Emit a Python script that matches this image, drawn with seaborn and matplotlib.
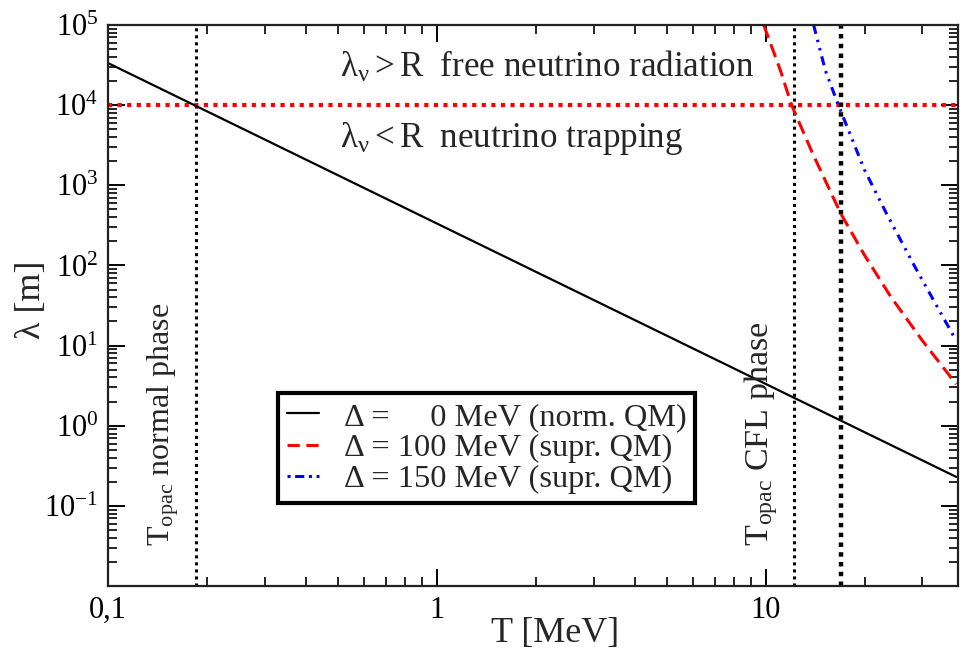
import matplotlib
matplotlib.use("Agg")
import matplotlib.pyplot as plt
from matplotlib.ticker import LogLocator, NullFormatter
from matplotlib.lines import Line2D
import seaborn as sns
import pandas as pd

# ---- data ----
T_norm = [0.1, 38.0]
lam_norm = [3.35e4, 0.23]

T_d100 = [9.87, 11.1, 12.0, 13.9, 16.9, 20.0, 24.0, 30.0, 38.0]
lam_d100 = [1.0e5, 2.7e4, 1.0e4, 2.5e3, 450.0, 134.0, 41.0, 11.5, 3.3]

T_d150 = [14.0, 15.2, 16.65, 20.0, 23.3, 28.5, 38.0]
lam_d150 = [1.0e5, 2.7e4, 1.0e4, 1.55e3, 447.0, 95.0, 11.5]

T_opac = [0.185, 12.2, 17.0]
R_lambda = 1.0e4

legend_labels = ["\u0394 =     0 MeV (norm. QM)",
                 "\u0394 = 100 MeV (supr. QM)",
                 "\u0394 = 150 MeV (supr. QM)"]
x_ticks = [0.1, 1, 10]
x_ticklabels = ["0,1", "1", "10"]
y_ticks = [1e-1, 1e0, 1e1, 1e2, 1e3, 1e4, 1e5]
y_ticklabels = [r"$10^{-1}$", r"$10^{0}$", r"$10^{1}$", r"$10^{2}$",
                r"$10^{3}$", r"$10^{4}$", r"$10^{5}$"]

sns.set_theme(style="ticks")
plt.rcParams["font.family"] = ["Liberation Serif", "DejaVu Serif"]
plt.rcParams["mathtext.fontset"] = "custom"
plt.rcParams["mathtext.rm"] = "Liberation Serif"
plt.rcParams["mathtext.it"] = "Liberation Serif:italic"
plt.rcParams["mathtext.bf"] = "Liberation Serif:bold"

fig = plt.figure(figsize=(9.6, 6.57), dpi=100)
ax = fig.add_axes([0.1125, 0.108, 0.998 - 0.1125, 0.962 - 0.108])

df0 = pd.DataFrame({"T": T_norm, "lam": lam_norm})
df1 = pd.DataFrame({"T": T_d100, "lam": lam_d100})
df2 = pd.DataFrame({"T": T_d150, "lam": lam_d150})

sns.lineplot(data=df0, x="T", y="lam", ax=ax, color="black", lw=1.6,
             sort=False, estimator=None)
l0 = ax.lines[-1]
sns.lineplot(data=df1, x="T", y="lam", ax=ax, color="#ff0000", lw=2.2,
             sort=False, estimator=None)
l1 = ax.lines[-1]
l1.set_dashes((4.5, 2.2))
sns.lineplot(data=df2, x="T", y="lam", ax=ax, color="#0000ff", lw=2.2,
             sort=False, estimator=None)
l2 = ax.lines[-1]
l2.set_dashes((3, 2, 0.8, 2, 0.8, 2))

ax.set_xscale("log")
ax.set_yscale("log")
ax.set_xlim(0.1, 38.5)
ax.set_ylim(1e-2, 1e5)

# reference lines
ax.axhline(R_lambda, color="#ff0000", lw=3.0, dashes=(1, 1.3), zorder=1)
ax.axvline(T_opac[0], color="black", lw=2.2, dashes=(1, 1.3), zorder=1)
ax.axvline(T_opac[1], color="black", lw=2.2, dashes=(1, 1.3), zorder=1)
ax.axvline(T_opac[2], color="black", lw=3.2, dashes=(1, 1.2), zorder=1)

# ticks
ax.set_xticks(x_ticks, x_ticklabels)
ax.xaxis.set_minor_locator(LogLocator(base=10, subs=range(2, 10), numticks=20))
ax.xaxis.set_minor_formatter(NullFormatter())
ax.set_yticks(y_ticks, y_ticklabels)
ax.yaxis.set_minor_locator(LogLocator(base=10, subs=range(2, 10), numticks=20))
ax.yaxis.set_minor_formatter(NullFormatter())
ax.tick_params(which="both", direction="in", top=True, right=True,
               labelsize=22, colors="black")
ax.tick_params(which="major", length=12.5, width=1.4, pad=7)
ax.tick_params(which="minor", length=6.5, width=1.2)
for s in ax.spines.values():
    s.set_linewidth(1.6)
    s.set_color("#222222")

ax.set_xlabel("T [MeV]", fontsize=26)
ax.set_ylabel("\u03bb [m]", fontsize=26)
ax.xaxis.set_label_coords((555 - 108) / 850, -(617 - 586) / 561)
ax.yaxis.set_label_coords(-(108 - 48) / 850, (586 - 300) / 561)

# annotations
ax.text(0.506, 2.24e4, r"$\mathrm{\lambda_{\nu} > R}$  free neutrino radiation",
        fontsize=25.2, ha="left", va="baseline")
ax.text(0.506, 2.99e3, r"$\mathrm{\lambda_{\nu} < R}$  neutrino trapping",
        fontsize=25.2, ha="left", va="baseline")
ax.text(0.147, 0.0316, r"$\mathrm{T_{opac}}$ normal phase", fontsize=23,
        rotation=90, ha="center", va="bottom")
ax.text(9.66, 0.0316, r"$\mathrm{T_{opac}}$ CFL phase", fontsize=24.5,
        rotation=90, ha="center", va="bottom")

# legend
handles = [Line2D([], [], color="black", lw=1.6),
           Line2D([], [], color="#ff0000", lw=2.2, dashes=(4, 2.2)),
           Line2D([], [], color="#0000ff", lw=2.2, dashes=(1, 1.5, 3, 1.5, 1, 1.5))]
leg = ax.legend(handles, legend_labels, loc="upper left",
                bbox_to_anchor=((278 - 108) / 850, (586 - 393) / 561),
                fontsize=23.3, frameon=True, fancybox=False, framealpha=1,
                edgecolor="black", handlelength=1.0, handletextpad=0.75,
                labelspacing=0.05, borderpad=0.28, borderaxespad=0)
leg.get_frame().set_linewidth(3.0)

fig.savefig("out.png", dpi=100)
